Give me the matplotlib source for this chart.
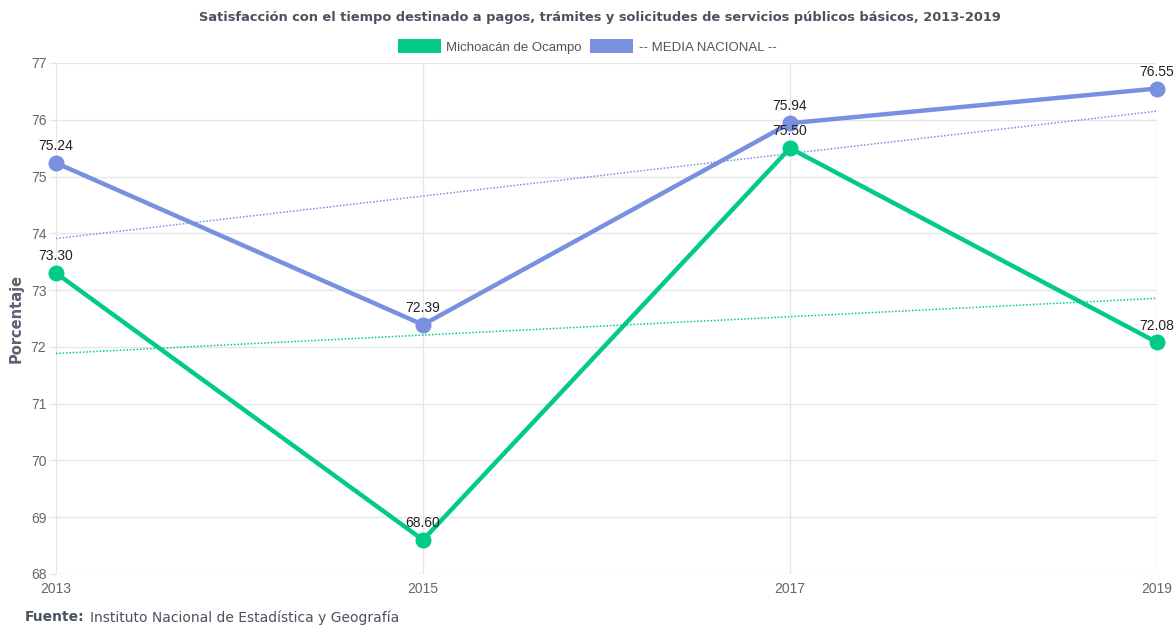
import matplotlib

matplotlib.use("Agg")
import matplotlib.pyplot as plt
from matplotlib.patches import Patch
import numpy as np

years = [2013, 2015, 2017, 2019]
michoacan = [73.30, 68.60, 75.50, 72.08]
nacional = [75.24, 72.39, 75.94, 76.55]
series_names = ["Michoacán de Ocampo", "-- MEDIA NACIONAL --"]
colors = ["#02CB86", "#7990E0"]

fig = plt.figure(figsize=(11.74, 6.28), dpi=100)
ax = fig.add_axes([0.0477, 0.086, 0.9378, 0.8137])

x = np.array(years)
for vals, col in zip([michoacan, nacional], colors):
    ax.plot(x, vals, color=col, lw=3.2, marker="o", ms=10.5, clip_on=False, zorder=4)
    # linear trend line through each series
    k, b = np.polyfit(x, vals, 1)
    ax.plot(x[[0, -1]], k * x[[0, -1]] + b, ls=(0, (1, 1.2)), lw=1.1, color=col, zorder=3)
    for xi, v in zip(x, vals):
        ax.annotate(f"{v:.2f}", (xi, v), xytext=(0, 7), textcoords="offset points",
                    ha="center", va="bottom", fontsize=10, color="#222222",
                    family="Liberation Sans", zorder=5)

ax.set_xlim(2013, 2019)
ax.set_ylim(68, 77)
ax.set_xticks(years)
ax.set_yticks(range(68, 78))
ax.grid(True, color="#e6e6e6", lw=1)
ax.set_axisbelow(True)
for s in ax.spines.values():
    s.set_visible(False)
ax.tick_params(axis="y", length=5, color="#e6e6e6", labelsize=10, labelcolor="#666666", pad=2)
ax.tick_params(axis="x", length=0, labelsize=10, labelcolor="#666666", pad=6)
for lab in ax.get_xticklabels() + ax.get_yticklabels():
    lab.set_family("Liberation Sans")
ax.set_ylabel("Porcentaje", fontsize=10.5, fontweight="bold", color="#5a6270", labelpad=5)

fig.text(0.511, 0.972, "Satisfacción con el tiempo destinado a pagos, trámites y solicitudes de servicios públicos básicos, 2013-2019",
         ha="center", va="center", fontsize=9.4, fontweight="bold", color="#4a5260")
handles = [Patch(facecolor=c, edgecolor="none") for c in colors]
fig.legend(handles, series_names, loc="center", bbox_to_anchor=(0.5, 0.926), ncol=2,
           frameon=False, handlelength=3.3, handleheight=1.2, columnspacing=0.6,
           handletextpad=0.4, prop={"family": "Liberation Sans", "size": 9.5},
           labelcolor="#555555")
src = fig.text(0.021, 0.017, "Fuente:", ha="left", va="center", fontsize=10,
               fontweight="bold", color="#4a5260")
fig.canvas.draw()
ax.annotate("Instituto Nacional de Estadística y Geografía", xy=(1, 0.5), xycoords=src,
            xytext=(4, 0), textcoords="offset points", ha="left", va="center",
            fontsize=10, color="#4a5260", annotation_clip=False)

fig.savefig("out.png", dpi=100)
